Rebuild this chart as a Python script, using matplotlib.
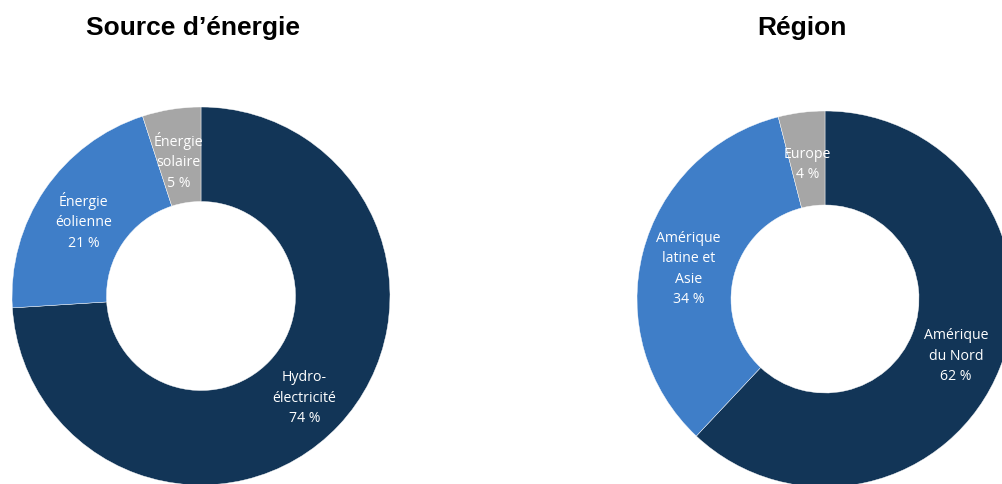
import matplotlib.pyplot as plt
from matplotlib.transforms import offset_copy

# data
energy_labels = ['Hydro-\nélectricité', 'Énergie\néolienne', 'Énergie\nsolaire']
energy_values = [74, 21, 5]
region_labels = ['Amérique\ndu Nord', 'Amérique\nlatine et\nAsie', 'Europe']
region_values = [62, 34, 4]

colors = ['#123557', '#3f7ec8', '#a6a6a6']

W, H = 1003, 485
fig = plt.figure(figsize=(W / 100, H / 100), dpi=100)
fig.patch.set_facecolor('white')

M = 1.1  # axes margin around the unit pie


def donut(cx, cy, r, labels, values, title, tx):
    # cx, cy, r in pixels (y from top)
    half = r * M
    ax = fig.add_axes([(cx - half) / W, (H - cy - half) / H, 2 * half / W, 2 * half / H])
    texts = [f'{l}\n{v} %' for l, v in zip(labels, values)]
    wedges, lbls = ax.pie(values, colors=colors, startangle=90, counterclock=False,
                          labels=texts, labeldistance=0.75,
                          wedgeprops=dict(width=0.5, linewidth=0.3, edgecolor='white'),
                          textprops=dict(color='white', fontsize=10.2, family='Open Sans',
                                         ha='center', va='center', linespacing=1.5))
    shift = offset_copy(ax.transData, fig=fig, y=-3, units='points')
    for t in lbls:
        t.set_horizontalalignment('center')
        t.set_transform(shift)
    ax.set_xlim(-M, M)
    ax.set_ylim(-M, M)
    ax.set_aspect('equal')
    ax.axis('off')
    fig.text(tx / W, 1 - 28 / H, title, ha='center', va='center',
             fontsize=19, fontweight='bold', family='Liberation Sans')


donut(201, 297, 189, energy_labels, energy_values, 'Source d’énergie', 193)
donut(825, 300, 188, region_labels, region_values, 'Région', 802)

fig.savefig('out.png', dpi=100)
